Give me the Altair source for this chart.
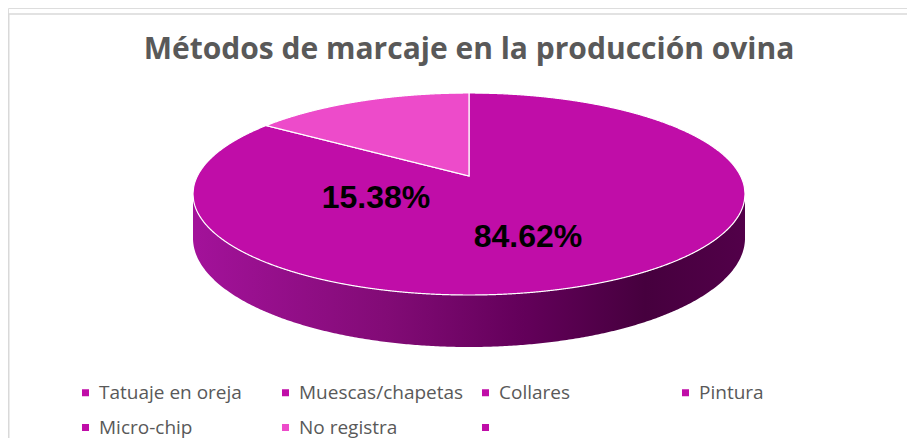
import math
import numpy as np
import pandas as pd
import altair as alt

# ---------------- data ----------------
TITLE = "Métodos de marcaje en la producción ovina"
categories = ["Tatuaje en oreja", "Muescas/chapetas", "Collares", "Pintura",
              "Micro-chip", "No registra", ""]
values = [0.0, 84.62, 0.0, 0.0, 0.0, 15.38, 0.0]
colors = ["#C00DA8", "#C00DA8", "#C00DA8", "#C00DA8", "#C00DA8", "#ED4BCA", "#C00DA8"]

# ---------------- layout (chart pixel space) ----------------
W, H = 899, 430
CX, APEX_Y = 461, 168          # projected pie centre
HALF_W = 276                   # half width of top face
TOP_BACK, TOP_FRONT = 83, 119  # distance apex -> back / front edge
DEPTH = 52                     # side height at the front
LABEL_POS = {"Muescas/chapetas": (520, 229), "No registra": (368, 190)}

k = (TOP_FRONT - TOP_BACK) / (TOP_FRONT + TOP_BACK)
RS = TOP_BACK * (1 + k)
R = HALF_W * math.sqrt(1 - k * k)


def proj(phi_deg, r=1.0):
    p = math.radians(phi_deg)
    s = 1.0 / (1.0 + k * r * math.sin(p))
    return CX + r * R * math.cos(p) * s, APEX_Y - r * RS * math.sin(p) * s


def slice_rows(name, f0, f1):
    phi0 = 90 - 360 * f0
    phi1 = 90 - 360 * f1
    n = max(8, int(abs(phi1 - phi0) * 3))
    poly = [(CX, APEX_Y)] + [proj(p) for p in np.linspace(phi0, phi1, n)]
    edges = list(zip(poly, poly[1:] + poly[:1]))
    xs = set(np.linspace(CX - HALF_W + 0.01, CX + HALF_W - 0.01, 900).tolist())
    for px in (poly[0][0], poly[1][0], poly[-1][0]):
        xs.update([px - 1e-3, px + 1e-3])
    rows = []
    for x in sorted(xs):
        ys = []
        for (x1, y1), (x2, y2) in edges:
            if (x1 <= x < x2) or (x2 <= x < x1):
                ys.append(y1 + (x - x1) * (y2 - y1) / (x2 - x1))
        if len(ys) >= 2:
            ys.sort()
            rows.append({"cat": name, "x": x, "y": ys[0], "y2": ys[-1]})
    return rows


total = sum(values)
top_rows = []
cum = 0.0
for c, v in zip(categories, values):
    if v > 0:
        top_rows += slice_rows(c, cum / total, (cum + v) / total)
    cum += v
top_df = pd.DataFrame(top_rows)

# side (front rim)
a = math.degrees(math.asin(k))
s_front = 1.0 / (1.0 - k)
side_rows = []
for p in np.linspace(180 + a, 360 - a, 400):
    x, y = proj(p)
    s = 1.0 / (1.0 + k * math.sin(math.radians(p)))
    side_rows.append({"x": x, "y": y, "y2": y + DEPTH * s / s_front})
side_df = pd.DataFrame(side_rows)

lab_df = pd.DataFrame([
    {"label": f"{v:.2f}%", "x": LABEL_POS[c][0], "y": LABEL_POS[c][1]}
    for c, v in zip(categories, values) if v > 0
])

xs = alt.Scale(domain=[0, W], nice=False, zero=False)
ys = alt.Scale(domain=[0, H], nice=False, zero=False, reverse=True)

side = alt.Chart(side_df).mark_area(
    color=alt.Gradient(
        gradient="linear",
        stops=[alt.GradientStop(color="#A3129A", offset=0),
               alt.GradientStop(color="#820B76", offset=0.35),
               alt.GradientStop(color="#63005A", offset=0.6),
               alt.GradientStop(color="#46003E", offset=0.82),
               alt.GradientStop(color="#520049", offset=1)],
        x1=0, x2=1, y1=0, y2=0),
    interpolate="linear",
).encode(
    x=alt.X("x:Q", scale=xs, axis=None),
    y=alt.Y("y:Q", scale=ys, axis=None),
    y2="y2:Q",
)

top = alt.Chart(top_df).mark_area(
    stroke="#FFFFFF", strokeWidth=1.2, opacity=1, interpolate="linear"
).encode(
    x=alt.X("x:Q", scale=xs, axis=None),
    y=alt.Y("y:Q", scale=ys, axis=None),
    y2="y2:Q",
    color=alt.Color(
        "cat:N",
        scale=alt.Scale(domain=categories, range=colors),
        legend=alt.Legend(
            title=None, orient="none", legendX=68, legendY=375,
            direction="horizontal",
            columns=4, gridAlign="all", columnPadding=12, rowPadding=15,
            symbolType="square", symbolSize=49, symbolStrokeWidth=0,
            symbolOpacity=1, labelFont="Open Sans", labelFontSize=19,
            labelColor="#595959", labelOffset=4, labelLimit=400,
        ),
    ),
)

labels = alt.Chart(lab_df).mark_text(
    font="Liberation Sans", fontWeight="bold", fontSize=32, color="#000000",
    align="center", baseline="middle",
).encode(
    x=alt.X("x:Q", scale=xs, axis=None),
    y=alt.Y("y:Q", scale=ys, axis=None),
    text="label:N",
)

title = alt.Chart(pd.DataFrame({"t": [TITLE]})).mark_text(
    font="Open Sans", fontWeight="bold", fontSize=30, color="#595959",
    align="center", baseline="alphabetic",
).encode(text="t:N", x=alt.value(CX), y=alt.value(51))

frame_df = pd.DataFrame({"d": [0]})
frame_top = alt.Chart(frame_df).mark_rule(color="#D9D9D9", strokeWidth=1.5).encode(
    x=alt.value(0), x2=alt.value(W), y=alt.value(6))
frame_left = alt.Chart(frame_df).mark_rule(color="#D9D9D9", strokeWidth=1.5).encode(
    x=alt.value(0.75), y=alt.value(6), y2=alt.value(H))

chart = alt.layer(frame_top, frame_left, side, top, labels, title).properties(
    width=W, height=H, padding=0,
    autosize=alt.AutoSizeParams(type="none"),
).configure_view(strokeWidth=0).configure(background="#FFFFFF")

chart.save("out.html", embed_options={"renderer": "svg", "actions": False})
